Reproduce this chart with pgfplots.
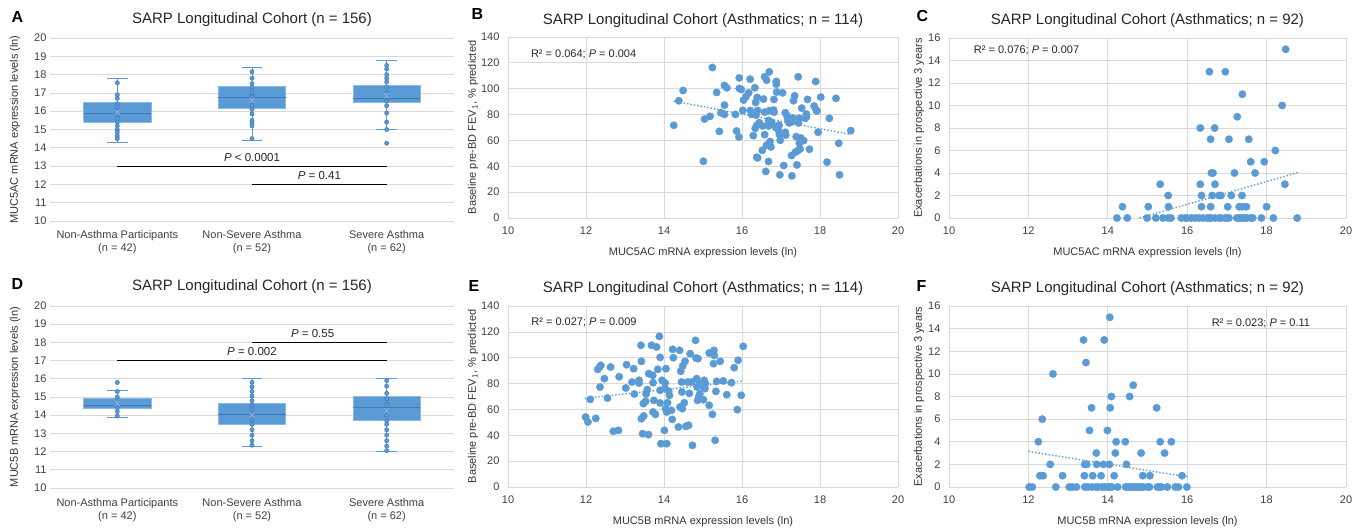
\documentclass[border=0pt]{standalone}
\usepackage{fontspec}
\setmainfont{Liberation Sans}
\usepackage{pgfplots}
\pgfplotsset{compat=1.18}

\definecolor{xlblue}{RGB}{91,155,213}
\definecolor{xledge}{RGB}{65,120,178}
\definecolor{xllight}{RGB}{140,185,228}
\definecolor{gridgray}{RGB}{217,217,217}

\tikzset{
  ptxt/.style={anchor=base, font=\fontsize{11.5}{13}\selectfont, text=black!85},
  rtxt/.style={anchor=base west, font=\fontsize{11}{13}\selectfont, text=black!85},
  letter/.style={anchor=base west, font=\fontsize{16}{18}\selectfont\bfseries},
}

\pgfplotsset{
  panel/.style={
    scale only axis, clip=false, anchor=south west,
    axis line style={draw=none}, tick style={draw=none},
    ymajorgrids, grid style={draw=gridgray, line width=0.7pt},
    tick label style={font=\fontsize{11}{13}\selectfont, text=black!75},
    label style={font=\fontsize{11}{13}\selectfont, text=black!80},
    title style={font=\fontsize{15}{18}\selectfont, text=black!85, anchor=base, yshift=7pt},
    /pgf/number format/assume math mode=true,
  },
  boxpanel/.style={
    panel, width=404pt, height=183pt,
    xmin=0.5, xmax=3.5, ymin=10, ymax=20, ytick={10,...,20},
    xtick={1,2,3}, xticklabel style={align=center, yshift=-6pt},
    xticklabels={{Non-Asthma Participants\\(n = 42)},{Non-Severe Asthma\\(n = 52)},{Severe Asthma\\(n = 62)}},
    ylabel style={at={(axis description cs:-0.0866,0.5)}, anchor=center},
    title={SARP Longitudinal Cohort (n = 156)},
  },
  scat/.style={
    panel, xmajorgrids, xmin=10, xmax=20, xtick={10,12,...,20}, ymin=0,
    xticklabel style={yshift=-5pt}, yticklabel style={xshift=-5pt},
    every axis x label/.style={at={(axis description cs:0.5,0)}, anchor=base, yshift=-38pt,
      font=\fontsize{11}{13}\selectfont, text=black!80},
  },
  fevpanel/.style={scat, width=390pt, height=181pt, ymax=140, ytick={0,20,...,140},
    ylabel={Baseline pre-BD FEV\textsubscript{1}, \% predicted},
    ylabel style={at={(axis description cs:-0.0897,0.5)}, anchor=center},
    title={SARP Longitudinal Cohort (Asthmatics; n = 114)}},
  expanel/.style={scat, width=397pt, height=181pt, ymax=16, ytick={0,2,...,16},
    ylabel={Exacerbations in prospective 3 years},
    ylabel style={at={(axis description cs:-0.0756,0.5)}, anchor=center},
    title={SARP Longitudinal Cohort (Asthmatics; n = 92)}},
  whisk/.style={draw=xlblue, line width=1pt, mark=none},
  boxface/.style={draw=xllight, fill=xlblue, line width=1pt, mark=none},
  medline/.style={draw=xledge, line width=1pt, mark=none},
  inpts/.style={only marks, mark=*, mark size=2.1pt, mark options={fill=xlblue, draw=xledge, line width=0.5pt}},
  meanpt/.style={only marks, mark=x, mark size=3.5pt, mark options={draw=xllight, line width=0.9pt}},
  dots/.style={only marks, mark=*, mark size=3.7pt, mark options={fill=xlblue, draw=xlblue}},
  trend/.style={xlblue, dotted, line width=1.4pt},
  sig/.style={black, line width=1pt},
}

% box and whiskers: position, lower whisker, Q1, median, Q3, upper whisker
\newcommand{\bxp}[6]{%
  \pgfmathsetmacro{\boxL}{#1-0.25}\pgfmathsetmacro{\boxR}{#1+0.25}%
  \pgfmathsetmacro{\capL}{#1-0.077}\pgfmathsetmacro{\capR}{#1+0.077}%
  \addplot[whisk] coordinates {(#1,#2) (#1,#3)};
  \addplot[whisk] coordinates {(#1,#5) (#1,#6)};
  \addplot[whisk] coordinates {(\capL,#2) (\capR,#2)};
  \addplot[whisk] coordinates {(\capL,#6) (\capR,#6)};
  \addplot[boxface] coordinates {(\boxL,#3) (\boxR,#3) (\boxR,#5) (\boxL,#5) (\boxL,#3)};
  \addplot[medline] coordinates {(\boxL,#4) (\boxR,#4)};
}

\begin{document}
\begin{tikzpicture}
\useasboundingbox (0pt,0pt) rectangle (1366pt,529pt);

% ---------------- A ----------------
\begin{axis}[boxpanel, at={(50pt,308pt)}, title style={yshift=1pt},
  ylabel={MUC5AC mRNA expression levels (ln)}]
\bxp{1}{14.3}{15.4}{15.85}{16.45}{17.8}
\bxp{2}{14.4}{16.15}{16.75}{17.35}{18.4}
\bxp{3}{15.0}{16.45}{16.7}{17.4}{18.75}
\addplot[inpts] coordinates {
 (1,17.55) (1,16.9) (1,16.7) (1,16.4) (1,16.2) (1,16.0) (1,15.8) (1,15.6) (1,15.4) (1,15.2) (1,15.0) (1,14.85) (1,14.65) (1,14.5)
 (2,18.15) (2,17.8) (2,17.5) (2,17.3) (2,17.0) (2,16.8) (2,16.5) (2,16.3) (2,16.1) (2,15.85) (2,15.5) (2,15.35) (2,15.2) (2,14.5)
 (3,18.5) (3,18.3) (3,18.0) (3,17.8) (3,17.6) (3,17.3) (3,17.0) (3,16.8) (3,16.55) (3,16.3) (3,15.9) (3,15.4) (3,15.0) (3,14.25)};
\addplot[meanpt] coordinates {(1,15.95) (2,16.6) (3,16.85)};
\addplot[sig] coordinates {(1,13) (3,13)};
\addplot[sig] coordinates {(2,12) (3,12)};
\node[ptxt] at (axis cs:2,13) [yshift=5pt] {\textit{P} < 0.0001};
\node[ptxt] at (axis cs:2.5,12) [yshift=4.5pt] {\textit{P} = 0.41};
\end{axis}

% ---------------- B ----------------
\begin{axis}[fevpanel, at={(508pt,311pt)}, title style={yshift=-1pt},
  xlabel={MUC5AC mRNA expression levels (ln)}]
\addplot[dots] coordinates {
(14.25,71.7) (14.38,90.7) (14.49,98.6) (15.01,43.9) (15.04,76.5) (15.18,78.6) (15.24,116.4) (15.35,97.1)
(15.42,67.0) (15.46,81.4) (15.55,102.5) (15.55,87.3) (15.61,100.7) (15.55,80.1) (15.83,80.1) (15.86,67.3)
(15.92,62.7) (15.93,108.4) (15.93,100.2) (15.98,99.4) (16.02,83.2) (16.04,91.2) (16.10,93.8) (16.17,96.8)
(16.21,107.4) (16.21,83.2) (16.25,80.1) (16.29,63.7) (16.33,100.7) (16.34,69.4) (16.35,89.4) (16.38,47.0)
(16.38,71.7) (16.39,93.2) (16.40,46.5) (16.40,83.2) (16.36,79.6) (16.44,73.7) (16.53,71.2) (16.55,92.0)
(16.52,52.4) (16.58,109.2) (16.58,64.5) (16.61,36.0) (16.63,106.6) (16.58,81.9) (16.63,56.3) (16.68,43.7)
(16.70,113.0) (16.68,75.5) (16.68,71.2) (16.70,83.0) (16.72,59.1) (16.74,55.0) (16.76,74.0) (16.82,91.7)
(16.81,83.5) (16.82,81.9) (16.86,70.1) (16.88,105.6) (16.88,103.5) (16.89,97.4) (16.93,68.1) (16.95,71.7)
(16.96,64.5) (16.97,33.4) (16.98,60.1) (17.04,96.8) (17.07,40.6) (17.11,81.4) (17.11,66.3) (17.12,64.2)
(17.15,79.4) (17.17,76.3) (17.21,73.5) (17.26,74.2) (17.28,32.6) (17.27,48.3) (17.30,77.3) (17.32,90.7)
(17.35,94.5) (17.37,50.9) (17.39,62.9) (17.41,41.1) (17.43,52.1) (17.44,109.2) (17.45,73.5) (17.47,77.1)
(17.49,53.4) (17.47,57.8) (17.51,61.9) (17.53,85.0) (17.58,59.9) (17.62,77.1) (17.65,80.4) (17.65,78.3)
(17.68,91.7) (17.73,53.2) (17.85,86.6) (17.89,105.6) (17.90,83.7) (17.92,82.7) (17.95,66.3) (18.02,93.5)
(18.18,43.2) (18.24,77.1) (18.41,92.5) (18.48,57.8) (18.50,33.4) (18.79,67.6)};
\addplot[trend] coordinates {(14.25,90.4) (18.8,64.5)};
\node[rtxt] at (axis cs:10.5,124) {R² = 0.064; \textit{P} = 0.004};
\end{axis}

% ---------------- C ----------------
\begin{axis}[expanel, at={(949pt,311pt)}, height=180pt,
  xlabel={MUC5AC mRNA expression levels (ln)}]
\addplot[dots] coordinates {
(14.23,0) (14.37,1) (14.49,0) (14.99,0) (15.02,1) (15.21,0) (15.32,3) (15.39,0) (15.52,2) (15.53,1)
(15.52,0) (15.59,0) (15.85,0) (15.95,0) (16.0,0) (16.1,0) (16.2,0) (16.3,0) (16.4,0) (16.5,0)
(16.33,8) (16.33,3) (16.36,2) (16.36,1) (16.56,13) (16.59,7) (16.59,1) (16.61,4) (16.65,4) (16.63,2)
(16.69,8) (16.70,3) (16.80,2) (16.85,2) (16.96,13) (17.02,1) (17.05,7) (17.11,2) (17.19,4) (17.26,9)
(17.31,1) (17.38,2) (17.39,11) (17.39,1) (17.49,1) (17.55,7) (17.60,5) (17.71,4) (17.94,5) (18.00,1)
(18.22,6) (18.39,10) (18.46,3) (18.48,15) (16.55,0) (16.6,0) (16.7,0) (16.8,0) (16.85,0) (16.95,0)
(17.0,0) (17.05,0) (17.25,0) (17.3,0) (17.35,0) (17.4,0) (17.45,0) (17.5,0) (17.6,0) (17.65,0)
(17.87,0) (18.17,0) (18.77,0)};
\addplot[trend] coordinates {(14.8,0) (18.8,4.05)};
\node[rtxt] at (axis cs:10.54,14.6) {R² = 0.076; \textit{P} = 0.007};
\end{axis}

% ---------------- D ----------------
\begin{axis}[boxpanel, at={(50pt,41pt)}, height=182pt, xticklabel style={yshift=-1pt},
  ylabel={MUC5B mRNA expression levels (ln)}, title style={yshift=2pt}]
\bxp{1}{13.85}{14.35}{14.55}{14.9}{15.35}
\bxp{2}{12.3}{13.5}{14.05}{14.65}{16.0}
\bxp{3}{12.0}{13.7}{14.4}{15.0}{16.0}
\addplot[inpts] coordinates {
 (1,15.8) (1,15.3) (1,15.0) (1,14.8) (1,14.6) (1,14.4) (1,14.2) (1,13.95)
 (2,15.8) (2,15.55) (2,15.3) (2,15.05) (2,14.8) (2,14.55) (2,14.3) (2,14.0) (2,13.75) (2,13.5) (2,13.2) (2,12.9) (2,12.6) (2,12.35)
 (3,15.9) (3,15.6) (3,15.2) (3,14.9) (3,14.6) (3,14.3) (3,14.0) (3,13.7) (3,13.5) (3,13.2) (3,12.9) (3,12.6) (3,12.3) (3,12.05)};
\addplot[meanpt] coordinates {(1,14.65) (2,14.0) (3,14.25)};
\addplot[sig] coordinates {(1,17) (3,17)};
\addplot[sig] coordinates {(2,18) (3,18)};
\node[ptxt] at (axis cs:2,17) [yshift=5pt] {\textit{P} = 0.002};
\node[ptxt] at (axis cs:2.45,18) [yshift=4.7pt] {\textit{P} = 0.55};
\end{axis}

% ---------------- E ----------------
\begin{axis}[fevpanel, at={(508pt,42pt)},
  xlabel={MUC5B mRNA expression levels (ln)}]
\addplot[dots] coordinates {
(11.99,54.1) (12.05,50.3) (12.11,67.8) (12.25,53.1) (12.30,91.0) (12.35,92.8) (12.38,94.1) (12.36,77.3)
(12.47,83.8) (12.55,68.8) (12.63,92.8) (12.70,43.1) (12.83,43.8) (12.85,85.3) (13.04,94.6) (13.02,76.6)
(13.18,81.2) (13.22,91.5) (13.24,71.9) (13.36,82.5) (13.36,80.4) (13.41,109.6) (13.42,97.2) (13.42,52.8)
(13.45,41.2) (13.47,64.5) (13.48,54.9) (13.53,66.3) (13.54,71.9) (13.57,75.3) (13.60,40.5) (13.61,87.7)
(13.68,109.6) (13.71,86.4) (13.72,80.7) (13.72,58.0) (13.74,67.0) (13.78,56.2) (13.81,108.3) (13.84,91.0)
(13.88,116.5) (13.90,65.0) (13.90,74.8) (13.90,100.3) (13.92,33.5) (13.95,82.5) (14.01,43.8) (14.02,76.1)
(14.03,80.4) (14.04,60.6) (14.05,91.5) (14.07,33.5) (14.07,58.0) (14.09,65.2) (14.12,74.2) (14.14,70.9)
(14.19,59.3) (14.21,52.3) (14.22,106.5) (14.24,100.0) (14.37,46.4) (14.40,105.7) (14.41,61.9) (14.43,89.5)
(14.45,81.2) (14.46,73.5) (14.47,60.6) (14.48,93.6) (14.52,65.2) (14.54,97.2) (14.56,46.9) (14.61,81.2)
(14.63,47.7) (14.65,72.4) (14.67,103.1) (14.71,81.2) (14.73,32.2) (14.81,113.4) (14.82,99.8) (14.84,83.8)
(14.85,77.3) (14.86,67.0) (14.87,99.3) (14.89,69.6) (14.91,79.9) (14.92,72.2) (14.99,78.1) (15.01,67.5)
(15.03,82.5) (15.05,76.1) (15.06,79.9) (15.16,63.2) (15.16,103.6) (15.24,56.2) (15.27,95.4) (15.28,105.7)
(15.29,101.8) (15.31,36.1) (15.33,74.0) (15.35,81.7) (15.44,97.2) (15.52,82.0) (15.61,71.4) (15.73,80.7)
(15.80,92.3) (15.90,98.0) (15.88,59.8) (15.98,70.9) (16.03,108.8)};
\addplot[trend] coordinates {(11.97,68.6) (16.02,82.0)};
\node[rtxt] at (axis cs:10.51,125) {R² = 0.027; \textit{P} = 0.009};
\end{axis}

% ---------------- F ----------------
\begin{axis}[expanel, at={(949pt,42pt)},
  xlabel={MUC5B mRNA expression levels (ln)}]
\addplot[dots] coordinates {
(12.02,0) (12.10,0) (12.25,4) (12.29,1) (12.35,6) (12.37,1) (12.55,2) (12.62,10) (12.69,0) (12.86,1)
(13.03,0) (13.11,0) (13.21,0) (13.39,13) (13.41,1) (13.42,2) (13.45,11) (13.47,2) (13.42,0) (13.54,5)
(13.59,7) (13.62,1) (13.71,3) (13.72,2) (13.83,1) (13.89,2) (13.91,13) (13.99,5) (14.04,2) (14.05,15)
(14.06,7) (14.09,8) (14.16,1) (14.19,3) (14.21,4) (14.44,4) (14.47,2) (14.55,8) (14.64,9) (14.84,3)
(14.88,1) (15.06,1) (15.23,7) (15.32,4) (15.43,3) (15.60,4) (15.87,1)
(13.5,0) (13.6,0) (13.7,0) (13.75,0) (13.85,0) (13.92,0) (14.0,0) (14.05,0) (14.1,0) (14.25,0)
(14.45,0) (14.5,0) (14.55,0) (14.6,0) (14.65,0) (14.7,0) (14.75,0) (14.8,0) (14.85,0) (14.9,0)
(15.0,0) (15.05,0) (15.25,0) (15.3,0) (15.35,0) (15.5,0) (15.7,0) (15.78,0) (15.99,0)};
\addplot[trend] coordinates {(12.0,3.15) (16.0,0.9)};
\node[rtxt] at (axis cs:16.53,14.15) {R² = 0.023; \textit{P} = 0.11};
\end{axis}

% panel letters
\node[letter] at (8pt,506pt) {A};
\node[letter] at (468pt,509pt) {B};
\node[letter] at (913pt,507pt) {C};
\node[letter] at (8pt,239pt) {D};
\node[letter] at (465pt,237pt) {E};
\node[letter] at (913pt,237pt) {F};
\end{tikzpicture}
\end{document}
